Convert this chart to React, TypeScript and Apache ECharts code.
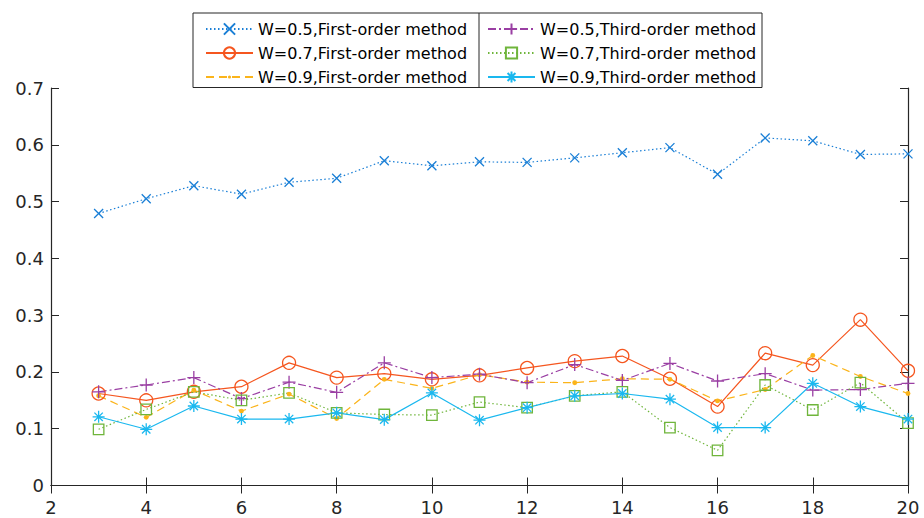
import React, { useEffect, useRef } from "react";
import * as echarts from "echarts";

const xValues = [3, 4, 5, 6, 7, 8, 9, 10, 11, 12, 13, 14, 15, 16, 17, 18, 19, 20];
const w05First = [0.479, 0.505, 0.528, 0.513, 0.534, 0.541, 0.572, 0.563, 0.570, 0.569, 0.577, 0.586, 0.595, 0.548, 0.612, 0.607, 0.583, 0.584];
const w07First = [0.162, 0.150, 0.165, 0.174, 0.216, 0.190, 0.197, 0.187, 0.194, 0.207, 0.219, 0.228, 0.188, 0.139, 0.233, 0.212, 0.292, 0.202];
const w09First = [0.158, 0.120, 0.168, 0.131, 0.161, 0.118, 0.187, 0.171, 0.195, 0.182, 0.181, 0.188, 0.187, 0.149, 0.169, 0.229, 0.192, 0.162];
const w05Third = [0.165, 0.177, 0.190, 0.153, 0.182, 0.164, 0.216, 0.190, 0.196, 0.181, 0.213, 0.185, 0.215, 0.184, 0.197, 0.168, 0.169, 0.180];
const w07Third = [0.099, 0.134, 0.165, 0.150, 0.163, 0.128, 0.125, 0.124, 0.147, 0.137, 0.158, 0.165, 0.102, 0.062, 0.177, 0.133, 0.181, 0.110];
const w09Third = [0.121, 0.099, 0.140, 0.117, 0.117, 0.128, 0.116, 0.163, 0.115, 0.137, 0.158, 0.162, 0.152, 0.102, 0.102, 0.180, 0.139, 0.117];

const seriesNames = [
  "W=0.5,First-order method",
  "W=0.7,First-order method",
  "W=0.9,First-order method",
  "W=0.5,Third-order method",
  "W=0.7,Third-order method",
  "W=0.9,Third-order method",
];

const FONT = "'DejaVu Sans', 'Liberation Sans', Arial, sans-serif";
const AXIS_COLOR = "#262626";

const pair = (ys: number[]) => xValues.map((x, i) => [x, ys[i]]);

export default function App() {
  const ref = useRef<HTMLDivElement>(null);
  useEffect(() => {
    if (!ref.current) return;
    const chart = echarts.init(ref.current, undefined, { renderer: "svg" });
    const mk = (
      name: string,
      ys: number[],
      color: string,
      lineType: any,
      symbol: string,
      size: number,
      filled: boolean
    ) => ({
      name,
      type: "line",
      data: pair(ys),
      symbol,
      symbolSize: size,
      showAllSymbol: true,
      lineStyle: { color, width: 1.2, type: lineType },
      itemStyle: filled
        ? { color, borderColor: color, borderWidth: 0 }
        : { color: "rgba(0,0,0,0)", borderColor: color, borderWidth: 1.3 },
      emphasis: { disabled: true },
      z: 2,
    });
    const xPath = "path://M0 0L10 10M10 0L0 10";
    const plusPath = "path://M5 0V10M0 5H10";
    const sqPath = "path://M0 0H10V10H0Z";
    const starPath = "path://M5 0V10M0 5H10M1.5 1.5L8.5 8.5M8.5 1.5L1.5 8.5";
    const dotPath = "path://M0 0L0 0M14 14L14 14M5 7A2 2 0 1 0 9 7A2 2 0 1 0 5 7Z";
    const legendText = { fontFamily: FONT, fontSize: 16, color: "#000" };
    const axisLabel = { fontSize: 18, color: AXIS_COLOR, fontFamily: FONT };
    chart.setOption({
      animation: false,
      textStyle: { fontFamily: FONT },
      grid: { left: 51, right: 16, top: 88, bottom: 32.5 },
      xAxis: [
        {
          type: "value",
          min: 2,
          max: 20,
          interval: 2,
          axisLine: { lineStyle: { color: AXIS_COLOR, width: 1.2 } },
          axisTick: { inside: true, length: 8, lineStyle: { color: AXIS_COLOR } },
          axisLabel: { ...axisLabel, margin: 13 },
          splitLine: { show: false },
        },
        {
          type: "value",
          position: "top",
          min: 2,
          max: 20,
          interval: 2,
          axisLine: { lineStyle: { color: AXIS_COLOR, width: 1.2 } },
          axisTick: { inside: true, length: 8, lineStyle: { color: AXIS_COLOR } },
          axisLabel: { show: false },
          splitLine: { show: false },
        },
      ],
      yAxis: [
        {
          type: "value",
          min: 0,
          max: 0.7,
          interval: 0.1,
          axisLine: { show: true, lineStyle: { color: AXIS_COLOR, width: 1.2 } },
          axisTick: { show: true, inside: true, length: 8, lineStyle: { color: AXIS_COLOR } },
          axisLabel: { ...axisLabel, margin: 7 },
          splitLine: { show: false },
        },
        {
          type: "value",
          position: "right",
          min: 0,
          max: 0.7,
          interval: 0.1,
          axisLine: { show: true, lineStyle: { color: AXIS_COLOR, width: 1.2 } },
          axisTick: { show: true, inside: true, length: 8, lineStyle: { color: AXIS_COLOR } },
          axisLabel: { show: false },
          splitLine: { show: false },
        },
      ],
      legend: [
        {
          data: seriesNames.slice(0, 3),
          orient: "vertical",
          left: 205,
          top: 21,
          padding: 0,
          itemWidth: 47,
          itemHeight: 14,
          itemGap: 8,
          textStyle: legendText,
          selectedMode: false,
          z: 10,
        },
        {
          data: seriesNames.slice(3),
          orient: "vertical",
          left: 487,
          top: 21,
          padding: 0,
          itemWidth: 47,
          itemHeight: 14,
          itemGap: 8,
          textStyle: legendText,
          selectedMode: false,
          z: 10,
        },
      ],
      graphic: [
        {
          type: "rect",
          z: 5,
          shape: { x: 193, y: 13, width: 569, height: 74.5 },
          style: { fill: "#fff", stroke: AXIS_COLOR, lineWidth: 1 },
        },
        {
          type: "line",
          z: 6,
          shape: { x1: 479, y1: 13, x2: 479, y2: 87.5 },
          style: { stroke: AXIS_COLOR, lineWidth: 1 },
        },
      ],
      series: [
        mk(seriesNames[0], w05First, "#1a7fd6", [1.5, 2.5], xPath, 9, false),
        mk(seriesNames[1], w07First, "#f5561f", "solid", "circle", 13, false),
        mk(seriesNames[2], w09First, "#fbb41a", [8, 5], dotPath, 17, true),
        mk(seriesNames[3], w05Third, "#9a3fa3", [8, 3, 2, 3], plusPath, 13, false),
        mk(seriesNames[4], w07Third, "#6fb53b", [1.5, 2.5], sqPath, 10.5, false),
        mk(seriesNames[5], w09Third, "#1ab8ef", "solid", starPath, 12, false),
      ],
    });
    return () => chart.dispose();
  }, []);
  return <div ref={ref} style={{ width: 924, height: 518, position: "absolute", left: 0, top: 0 }} />;
}
